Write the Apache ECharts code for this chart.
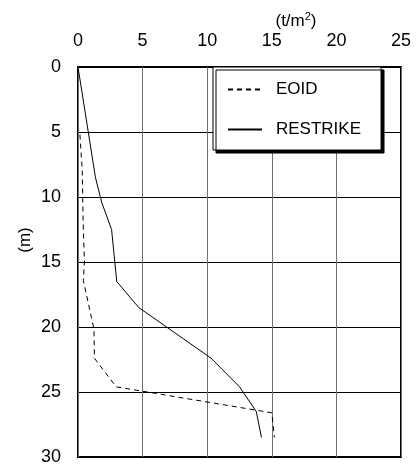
<!DOCTYPE html>
<html><head><meta charset="utf-8">
<script src="https://cdn.jsdelivr.net/npm/echarts@6/dist/echarts.min.js"></script>
<style>html,body{margin:0;padding:0;background:#fff}#c{width:416px;height:469px}</style>
</head><body><div id="c"></div>
<script>
const xTicks = [0, 5, 10, 15, 20, 25];
const yTicks = [0, 5, 10, 15, 20, 25, 30];
const seriesNames = ['EOID', 'RESTRIKE'];
const eoidDepth = [5.2, 8.0, 12.0, 15.0, 16.4, 20.2, 22.4, 24.6, 26.6, 28.5];
const eoidValue = [0.15, 0.33, 0.4, 0.5, 0.41, 1.24, 1.27, 2.95, 15.0, 15.2];
const restrikeDepth = [0, 8.5, 10.4, 12.5, 16.5, 18.5, 22.4, 24.6, 26.5, 28.5];
const restrikeValue = [0, 1.35, 1.83, 2.6, 3.0, 4.7, 10.3, 12.5, 13.8, 14.2];

const pairs = (xs, ys) => xs.map((v, i) => [v, ys[i]]);
const font = 'Liberation Sans, Arial, sans-serif';
const chart = echarts.init(document.getElementById('c'), null, {renderer: 'canvas'});
chart.setOption({
  animation: false,
  backgroundColor: '#fff',
  grid: {left: 78, top: 67, right: 15, bottom: 12, show: true, borderColor: '#000', borderWidth: 2, backgroundColor: 'transparent'},
  xAxis: {
    type: 'value', position: 'top', min: xTicks[0], max: xTicks[xTicks.length - 1], interval: 5,
    axisLine: {show: false}, axisTick: {show: false},
    axisLabel: {margin: 17, fontSize: 18, color: '#000', fontFamily: font, formatter: v => xTicks.includes(v) ? String(v) : ''},
    splitLine: {show: true, lineStyle: {color: '#707070', width: 1}}
  },
  yAxis: {
    type: 'value', inverse: true, min: yTicks[0], max: yTicks[yTicks.length - 1], interval: 5,
    axisLine: {show: false}, axisTick: {show: false},
    axisLabel: {margin: 17, fontSize: 18, color: '#000', fontFamily: font, formatter: v => yTicks.includes(v) ? String(v) : ''},
    splitLine: {show: true, lineStyle: {color: '#000', width: 1}}
  },
  legend: {
    left: 213, top: 67, orient: 'vertical',
    data: seriesNames,
    backgroundColor: '#fff', borderColor: '#000', borderWidth: 1,
    shadowColor: '#000', shadowOffsetX: 3, shadowOffsetY: 3, shadowBlur: 0,
    padding: [14, 20, 12, 14],
    itemWidth: 34, itemHeight: 14, itemGap: 23,
    itemStyle: {opacity: 0},
    textStyle: {fontSize: 17, color: '#000', fontFamily: font, padding: [0, 0, 0, 9]}
  },
  graphic: [
    {type: 'text', x: 296, y: 21, style: {
      text: '{a|(t/m}{s|2}{a|)}', align: 'center', verticalAlign: 'middle', fill: '#000',
      rich: {a: {fontSize: 17, fontFamily: font, fill: '#000'}, s: {fontSize: 11, fontFamily: font, verticalAlign: 'top', padding: [0, 0, 9, 0], fill: '#000'}}
    }},
    {type: 'text', x: 25, y: 240, rotation: Math.PI / 2, style: {
      text: '(m)', align: 'center', verticalAlign: 'middle', fontSize: 17, fontFamily: font, fill: '#000'
    }}
  ],
  series: [
    {name: seriesNames[0], type: 'line', symbol: 'none', data: pairs(eoidValue, eoidDepth),
     lineStyle: {color: '#000', width: 1, type: [5, 4]}, itemStyle: {color: '#000'}},
    {name: seriesNames[1], type: 'line', symbol: 'none', data: pairs(restrikeValue, restrikeDepth),
     lineStyle: {color: '#000', width: 1, type: 'solid'}, itemStyle: {color: '#000'}}
  ]
});
</script></body></html>
